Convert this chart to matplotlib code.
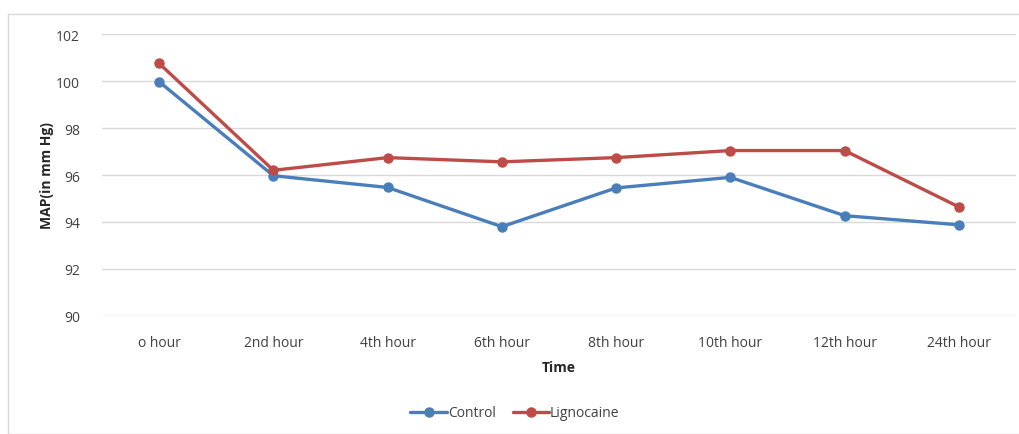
import matplotlib
matplotlib.use("Agg")
import matplotlib.pyplot as plt
from matplotlib.patches import Rectangle

# Mean arterial pressure readings over time
time_labels = ["o hour", "2nd hour", "4th hour", "6th hour", "8th hour",
               "10th hour", "12th hour", "24th hour"]
control = [99.97, 95.97, 95.47, 93.8, 95.45, 95.9, 94.27, 93.88]
lignocaine = [100.75, 96.2, 96.74, 96.56, 96.74, 97.04, 97.04, 94.64]
y_ticks = [90, 92, 94, 96, 98, 100, 102]

plt.rcParams['font.family'] = ['Open Sans', 'DejaVu Sans']

W, H = 1019, 435
fig = plt.figure(figsize=(W / 100, H / 100), dpi=100)

# chart-area outline
fig.patches.append(Rectangle((8 / W, 0), 1.2, (H - 15) / H, transform=fig.transFigure,
                             fill=False, edgecolor="#d9d9d9", linewidth=1.0))

ax = fig.add_axes([102 / W, (H - 317) / H, (1016 - 102) / W, (317 - 35) / H])
x = range(len(time_labels))
ax.plot(x, control, color="#4a7ebb", linewidth=2.4, marker="o", markersize=6.5,
        label="Control", solid_capstyle="round")
ax.plot(x, lignocaine, color="#be4b48", linewidth=2.4, marker="o", markersize=6.5,
        label="Lignocaine", solid_capstyle="round")

ax.set_xlim(-0.5, len(time_labels) - 0.5)
ax.set_ylim(90, 102)
ax.set_yticks(y_ticks)
ax.set_xticks(list(x))
ax.set_xticklabels(time_labels)
ax.grid(axis="y", color="#d9d9d9", linewidth=1.0)
ax.set_axisbelow(True)
for s in ax.spines.values():
    s.set_visible(False)
ax.tick_params(length=0, labelsize=10, colors="#404040")
ax.tick_params(axis="x", pad=14)
ax.tick_params(axis="y", pad=16)

ax.set_ylabel("MAP(in mm Hg)", fontsize=10, fontweight="bold", color="#262626", labelpad=1)
ax.set_xlabel("Time", fontsize=10, fontweight="bold", color="#262626", labelpad=7)

fig.legend(loc="center", bbox_to_anchor=(515 / W, 1 - 414 / H), ncol=2, frameon=False,
           fontsize=10, handlelength=2.6, columnspacing=1.2, handletextpad=0.1,
           labelcolor="#404040")

fig.savefig("out.png", dpi=100)
